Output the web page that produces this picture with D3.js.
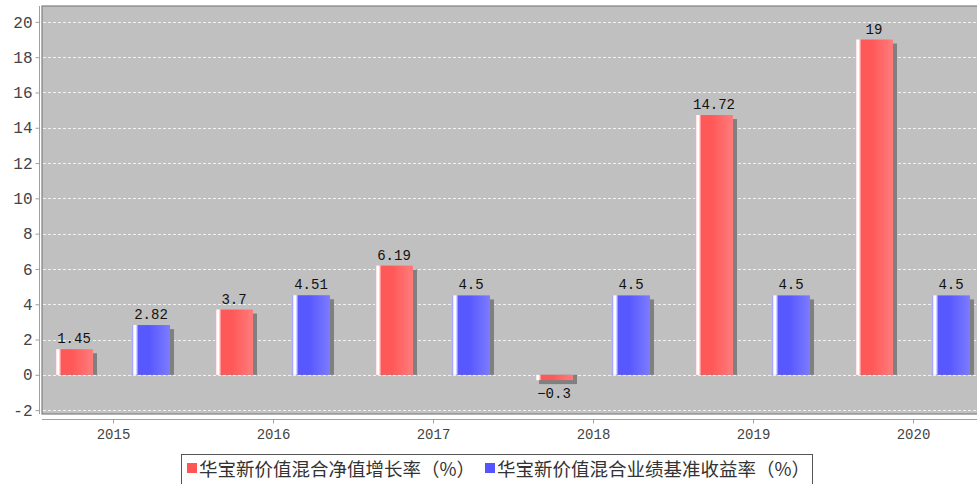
<!DOCTYPE html>
<html>
<head>
<meta charset="utf-8">
<script src="https://cdn.jsdelivr.net/npm/d3@7"></script>
<style>
  body { margin: 0; background: #ffffff; }
  svg { display: block; }
</style>
</head>
<body>
<div id="chart"></div>
<script>
// data
var years = ["2015", "2016", "2017", "2018", "2019", "2020"];
var navGrowth = [1.45, 3.7, 6.19, -0.3, 14.72, 19];
var benchmark = [2.82, 4.51, 4.5, 4.5, 4.5, 4.5];
var seriesNames = ["华宝新价值混合净值增长率（%）", "华宝新价值混合业绩基准收益率（%）"];
var yTicks = [-2, 0, 2, 4, 6, 8, 10, 12, 14, 16, 18, 20];

var svgWidth = 977, svgHeight = 484;

var plot = { left: 42, top: 6, right: 985, bottom: 414 };

var svg = d3.select("#chart").append("svg")
  .attr("width", svgWidth)
  .attr("height", svgHeight);

// scales
var yScale = d3.scaleLinear()
  .domain([-2.22, 20.9])
  .range([plot.bottom, plot.top]);

var xScale = d3.scalePoint()
  .domain(years)
  .range([113, 913]);

var barWidth = 38;
var barOffset = [-39, 38];

// gradients
var defs = svg.append("defs");
function makeGrad(id, edge, hi, base, light) {
  var g = defs.append("linearGradient").attr("id", id)
    .attr("x1", "0%").attr("x2", "100%").attr("y1", "0%").attr("y2", "0%");
  g.append("stop").attr("offset", "0%").attr("stop-color", edge);
  g.append("stop").attr("offset", "5%").attr("stop-color", hi);
  g.append("stop").attr("offset", "10%").attr("stop-color", hi);
  g.append("stop").attr("offset", "17%").attr("stop-color", base);
  g.append("stop").attr("offset", "45%").attr("stop-color", base);
  g.append("stop").attr("offset", "100%").attr("stop-color", light);
}
makeGrad("gradRed", "#ff8888", "#ffffff", "#ff5858", "#ff7c7c");
makeGrad("gradBlue", "#8888ff", "#ffffff", "#5858ff", "#7c7cff");

// plot background
svg.append("rect")
  .attr("x", plot.left)
  .attr("y", plot.top)
  .attr("width", plot.right - plot.left)
  .attr("height", plot.bottom - plot.top)
  .attr("fill", "#c0c0c0")
  .attr("stroke", "#808080")
  .attr("stroke-width", 1.2);

// gridlines
svg.append("g").selectAll("line")
  .data(yTicks)
  .enter()
  .append("line")
  .attr("x1", plot.left + 1)
  .attr("x2", plot.right)
  .attr("y1", d => Math.round(yScale(d)) + 0.5)
  .attr("y2", d => Math.round(yScale(d)) + 0.5)
  .attr("stroke", "#ffffff")
  .attr("stroke-width", 1)
  .attr("stroke-dasharray", "3,2")
  .attr("opacity", 0.8);

// y axis
var yAxis = d3.axisLeft(yScale).tickValues(yTicks).tickSize(4).tickPadding(3)
  .tickFormat(d => d);
var gy = svg.append("g")
  .attr("transform", "translate(39.5,0)")
  .call(yAxis);
gy.select(".domain").attr("stroke", "#a0a0a0").attr("d", `M0,${plot.top}V${plot.bottom}`);
gy.selectAll(".tick line").attr("stroke", "#a0a0a0");
gy.selectAll(".tick text")
  .attr("font-family", "Liberation Mono")
  .attr("font-size", "16px")
  .attr("fill", "#444");

// x axis
var xAxis = d3.axisBottom(xScale).tickSize(4).tickPadding(6);
var gx = svg.append("g")
  .attr("transform", "translate(0,419.5)")
  .call(xAxis);
gx.select(".domain").attr("stroke", "#a0a0a0").attr("d", `M${plot.left},0H${svgWidth}`);
gx.selectAll(".tick line").attr("stroke", "#a0a0a0");
gx.selectAll(".tick text")
  .attr("font-family", "Liberation Mono")
  .attr("font-size", "14px")
  .attr("fill", "#444");

// bars
var series = [
  { values: navGrowth, fill: "url(#gradRed)" },
  { values: benchmark, fill: "url(#gradBlue)" }
];
var zero = yScale(0);

series.forEach(function(s, si) {
  var g = svg.append("g");
  var rows = years.map((y, i) => ({ year: y, v: s.values[i] }));

  // shadow
  g.selectAll("rect.shadow")
    .data(rows)
    .enter()
    .append("rect")
    .attr("class", "shadow")
    .attr("x", d => xScale(d.year) + barOffset[si] - barWidth / 2 + 4)
    .attr("y", d => d.v >= 0 ? yScale(d.v) + 4 : zero)
    .attr("width", barWidth)
    .attr("height", d => d.v >= 0 ? zero - yScale(d.v) - 4 : yScale(d.v) - zero + 4)
    .attr("fill", "#808080");

  g.selectAll("rect.bar")
    .data(rows)
    .enter()
    .append("rect")
    .attr("class", "bar")
    .attr("x", d => xScale(d.year) + barOffset[si] - barWidth / 2)
    .attr("y", d => yScale(Math.max(d.v, 0)))
    .attr("width", barWidth)
    .attr("height", d => Math.abs(yScale(d.v) - zero))
    .attr("fill", s.fill);

  g.selectAll("text")
    .data(rows)
    .enter()
    .append("text")
    .attr("x", d => xScale(d.year) + barOffset[si])
    .attr("y", d => d.v >= 0 ? yScale(d.v) - 6 : yScale(d.v) + 18)
    .attr("text-anchor", "middle")
    .attr("font-family", "Liberation Mono")
    .attr("font-size", "14px")
    .attr("fill", "#111")
    .text(d => String(d.v).replace("-", "−"));
});

// legend
var legend = svg.append("g");
legend.append("rect")
  .attr("x", 181.5).attr("y", 454.5)
  .attr("width", 631).attr("height", 40)
  .attr("fill", "#ffffff")
  .attr("stroke", "#555")
  .attr("stroke-width", 1);
var legendItems = [
  { name: seriesNames[0], color: "#ff5555", x: 187 },
  { name: seriesNames[1], color: "#5555ff", x: 485 }
];
legendItems.forEach(function(it) {
  legend.append("rect")
    .attr("x", it.x).attr("y", 463)
    .attr("width", 10).attr("height", 10)
    .attr("fill", it.color);
  legend.append("text")
    .attr("x", it.x + 12).attr("y", 476)
    .attr("font-family", "Noto Sans CJK SC")
    .attr("font-size", "18.5px")
    .attr("fill", "#333")
    .text(it.name);
});
</script>
</body>
</html>
